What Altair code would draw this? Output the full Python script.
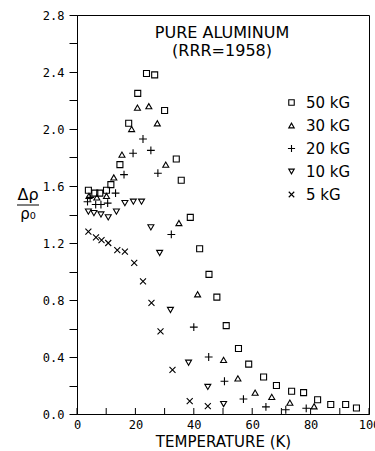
import altair as alt
import pandas as pd

# ---- data ----
series_names = ["50 kG", "30 kG", "20 kG", "10 kG", "5 kG"]

T50 = [3.9, 6.1, 7.8, 10.1, 11.6, 14.7, 17.7, 20.8, 23.8, 26.6, 30.0, 34.0, 35.7,
       38.8, 42.0, 45.2, 47.9, 51.1, 55.3, 58.8, 63.9, 68.3, 73.5, 77.6, 82.4,
       86.9, 92.0, 95.7]
V50 = [1.57, 1.55, 1.55, 1.57, 1.61, 1.75, 2.04, 2.25, 2.39, 2.38, 2.13, 1.79, 1.64,
       1.38, 1.16, 0.98, 0.82, 0.62, 0.46, 0.35, 0.26, 0.20, 0.16, 0.15, 0.10,
       0.067, 0.067, 0.042]

T30 = [4.1, 6.8, 10.1, 12.6, 15.4, 18.7, 20.7, 24.6, 27.5, 30.4, 34.9, 41.3, 50.2,
       55.1, 61.0, 66.7, 72.9, 81.2]
V30 = [1.53, 1.52, 1.53, 1.66, 1.82, 2.00, 2.15, 2.16, 2.04, 1.75, 1.34, 0.84, 0.38,
       0.25, 0.15, 0.12, 0.08, 0.054]

T20 = [3.6, 4.5, 6.4, 8.2, 10.5, 13.2, 16.1, 19.2, 22.6, 25.3, 27.7, 32.3, 40.0,
       45.1, 50.5, 57.0, 64.7, 71.5, 78.5]
V20 = [1.49, 1.52, 1.47, 1.47, 1.48, 1.55, 1.68, 1.83, 1.93, 1.85, 1.69, 1.26, 0.61,
       0.40, 0.23, 0.105, 0.05, 0.03, 0.04]

T10 = [3.9, 5.8, 8.2, 10.7, 13.5, 16.4, 19.3, 22.1, 25.3, 28.3, 32.0, 38.2, 44.8, 50.2]
V10 = [1.42, 1.41, 1.40, 1.38, 1.42, 1.48, 1.49, 1.49, 1.31, 1.13, 0.73, 0.36, 0.19, 0.07]

T5 = [3.9, 6.5, 8.4, 10.7, 13.8, 16.4, 19.6, 22.6, 25.5, 28.6, 32.7, 38.6, 44.8]
V5 = [1.28, 1.24, 1.22, 1.20, 1.15, 1.14, 1.06, 0.93, 0.78, 0.58, 0.31, 0.09, 0.056]

x_label_values = [0, 20, 40, 60, 80, 100]
x_tick_values = [0, 10, 20, 30, 40, 50, 60, 70, 80, 90, 100]
y_tick_values = [0.0, 0.2, 0.4, 0.6, 0.8, 1.0, 1.2, 1.4, 1.6, 1.8, 2.0, 2.2, 2.4, 2.6, 2.8]

# ---- build table ----
rows = []
for name, ts, vs in zip(series_names, [T50, T30, T20, T10, T5], [V50, V30, V20, V10, V5]):
    for t, v in zip(ts, vs):
        rows.append({"T": t, "v": v, "series": name})
df = pd.DataFrame(rows)

shapes = ["square", "triangle-up", "M-1.3,0L1.3,0M0,-1.3L0,1.3", "triangle-down",
          "M-1,-1L1,1M-1,1L1,-1"]

W, H = 292, 399
FONT = "DejaVu Sans"
MONO = "DejaVu Sans Mono"

xscale = alt.Scale(domain=[0, 100], nice=False, zero=False)
yscale = alt.Scale(domain=[0, 2.8], nice=False, zero=False)

points = alt.Chart(df).mark_point(
    filled=False, color="black", strokeWidth=1.1, size=36, opacity=1
).encode(
    x=alt.X("T:Q", scale=xscale,
            axis=alt.Axis(values=x_label_values, ticks=False, grid=False,
                          labelFont=MONO, labelFontSize=12, labelColor="black",
                          labelPadding=5, labelFlush=False,
                          title="TEMPERATURE (K)", titleFont=FONT, titleFontSize=15,
                          titleFontWeight="normal", titleColor="black", titlePadding=4,
                          domainColor="black")),
    y=alt.Y("v:Q", scale=yscale,
            axis=alt.Axis(values=y_tick_values, grid=False, tickSize=8, tickColor="black",
                          labelExpr="round(datum.value*10) % 4 == 0 ? format(datum.value, '.1f') : ''",
                          labelFont=MONO, labelFontSize=12, labelColor="black",
                          labelPadding=5, title=None, domainColor="black")),
    shape=alt.Shape("series:N", scale=alt.Scale(domain=series_names, range=shapes),
                    legend=alt.Legend(orient="none", legendX=207, legendY=80, title=None,
                                      labelFont=FONT, labelFontSize=15, labelColor="black",
                                      symbolStrokeColor="black", symbolFillColor="transparent",
                                      symbolStrokeWidth=1.1, symbolSize=30, rowPadding=7,
                                      labelOffset=7, padding=0,
                                      labelExpr="datum.label == '5 kG' ? '\u20075 kG' : datum.label")),
)

xticks = alt.Chart(pd.DataFrame({"T": x_tick_values})).mark_rule(
    color="black", strokeWidth=1
).encode(x=alt.X("T:Q", scale=xscale), y=alt.value(H), y2=alt.value(H - 6))

one = alt.Data(values=[{"a": 1}])
title1 = alt.Chart(one).mark_text(font=FONT, fontSize=16, color="black").encode(
    x=alt.value(145), y=alt.value(18), text=alt.value("PURE ALUMINUM"))
title2 = alt.Chart(one).mark_text(font=FONT, fontSize=16, color="black").encode(
    x=alt.value(145), y=alt.value(36), text=alt.value("(RRR=1958)"))
ynum = alt.Chart(one).mark_text(font=FONT, fontSize=16, color="black", baseline="bottom").encode(
    x=alt.value(-49), y=alt.value(188), text=alt.value("Δρ"))
yline = alt.Chart(one).mark_rule(color="black", strokeWidth=1).encode(
    x=alt.value(-60), x2=alt.value(-38), y=alt.value(190))
yden = alt.Chart(one).mark_text(font=FONT, fontSize=15, color="black", baseline="top").encode(
    x=alt.value(-49), y=alt.value(192), text=alt.value("ρ₀"))

chart = alt.layer(points, xticks, title1, title2, ynum, yline, yden).properties(
    width=W, height=H,
    autosize=alt.AutoSizeParams(type="none"),
    padding={"left": 77, "top": 15, "right": 6, "bottom": 37},
    background="white",
).configure_view(stroke="black", strokeWidth=1)

chart.save("out.html", embed_options={"renderer": "svg", "actions": False})
